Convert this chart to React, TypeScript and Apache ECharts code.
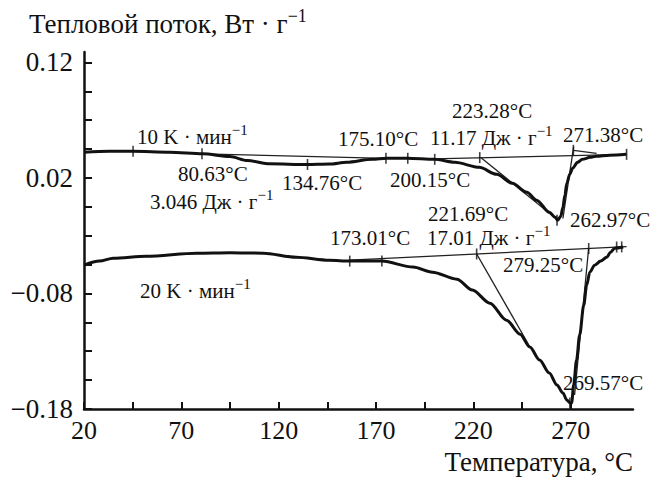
import React, { useEffect, useRef } from "react";
import * as echarts from "echarts";

// Axis ticks and labels
const xTickValues = [20, 45, 70, 95, 120, 145, 170, 195, 220, 245, 270];
const xLabelValues = [20, 70, 120, 170, 220, 270];
const yTickValues = [-0.18, -0.155, -0.13, -0.105, -0.08, -0.055, -0.03, -0.005, 0.02, 0.045, 0.07, 0.095, 0.12];
const yLabelValues = [-0.18, -0.08, 0.02, 0.12];

// 10 K/min curve
const upperTemp = [20, 33, 45, 64, 81, 95, 104, 115.5, 134.5, 146, 155, 168, 175.5, 186, 200, 210.5, 223, 232, 240, 247.5, 252.5, 259, 262, 263.3, 264.9, 266, 267, 268, 269.5, 271, 273.5, 276, 280, 283, 290, 298.5];
const upperFlow = [0.0422, 0.043, 0.043, 0.0422, 0.0409, 0.0385, 0.035, 0.0322, 0.0316, 0.032, 0.0335, 0.0361, 0.037, 0.037, 0.0361, 0.0335, 0.0292, 0.0231, 0.0154, 0.0076, 0.0007, -0.0097, -0.014, -0.0166, -0.0131, -0.0053, 0.005, 0.0154, 0.0232, 0.0284, 0.0335, 0.0361, 0.0378, 0.0387, 0.0396, 0.0404];

// 20 K/min curve
const lowerTemp = [20, 28, 35, 52, 78, 95, 112, 129, 146, 156.5, 173, 189, 199, 211.5, 219.5, 228.5, 237, 244, 249, 254, 259, 263, 266, 268, 269.6, 270.5, 271.5, 273, 274.6, 276.7, 278.2, 279.8, 282.3, 285.4, 288.5, 290.5, 292.6, 297];
const lowerFlow = [-0.0555, -0.052, -0.0495, -0.0477, -0.0451, -0.0447, -0.0451, -0.0486, -0.0512, -0.052, -0.052, -0.0572, -0.0616, -0.0676, -0.0771, -0.0884, -0.1031, -0.1152, -0.1264, -0.1376, -0.1489, -0.1593, -0.1662, -0.1722, -0.1748, -0.1748, -0.1593, -0.1376, -0.116, -0.0901, -0.0728, -0.0616, -0.0555, -0.052, -0.0486, -0.0443, -0.0408, -0.0398];

// Baselines and tangent construction lines: [T1, v1, T2, v2]
const guideLines = [
  [80.6, 0.0409, 175.5, 0.037],
  [199, 0.0365, 298.7, 0.0404],
  [223.8, 0.0377, 262.3, -0.0149],
  [271.5, 0.0468, 266, -0.0151],
  [271.5, 0.0439, 283.3, 0.0413],
  [156.5, -0.0512, 298.7, -0.0395],
  [221.7, -0.0458, 249, -0.1261],
  [279.2, -0.0411, 272, -0.1679],
];

// Small tick marks on the curves
const markTemp = [45.2, 80.6, 134.8, 175.1, 186.3, 200.15, 223.28, 262.97, 271.38, 298.7, 156.5, 173.01, 221.69, 279.25, 293.6, 296.2, 269.57];
const markFlow = [0.043, 0.0409, 0.0316, 0.037, 0.037, 0.0361, 0.0376, -0.0166, 0.0439, 0.0404, -0.052, -0.052, -0.0458, -0.0411, -0.0398, -0.0397, -0.1748];

// Annotation texts
const annotations: [string, number, number][] = [
  ["10 K · мин{s|−1}", 137, 137],
  ["80.63°C", 178, 174],
  ["3.046 Дж · г{s|−1}", 150, 202],
  ["134.76°C", 282, 183],
  ["175.10°C", 338, 139],
  ["200.15°C", 390, 180],
  ["223.28°C", 452, 111],
  ["11.17 Дж · г{s|−1}", 430, 138],
  ["271.38°C", 563, 135],
  ["221.69°C", 428, 214],
  ["262.97°C", 570, 220],
  ["17.01 Дж · г{s|−1}", 427, 238],
  ["173.01°C", 330, 238],
  ["279.25°C", 503, 265],
  ["20 K · мин{s|−1}", 140, 291],
  ["269.57°C", 563, 383],
];

const FONT = "'Liberation Serif', 'Times New Roman', serif";

function fmtY(v: number) {
  const s = Math.abs(v).toFixed(2);
  return v < -1e-9 ? "−" + s : s;
}

export default function App() {
  const ref = useRef<HTMLDivElement>(null);
  useEffect(() => {
    if (!ref.current) return;
    const chart = echarts.init(ref.current, undefined, { renderer: "svg" });
    const supRich = {
      s: { fontSize: 15, fontFamily: FONT, fill: "#111", padding: [0, 0, 14, 0] },
    };
    const graphics: any[] = annotations.map(([t, x, y]) => ({
      type: "text",
      x,
      y,
      silent: true,
      style: {
        text: t,
        fontSize: 21,
        fontFamily: FONT,
        fill: "#111",
        textAlign: "left",
        textVerticalAlign: "middle",
        rich: supRich,
      },
    }));
    graphics.push({
      type: "text",
      x: 29,
      y: 24,
      style: {
        text: "Тепловой поток, Вт · г{s|−1}",
        fontSize: 27,
        fontFamily: FONT,
        fill: "#111",
        textAlign: "left",
        textVerticalAlign: "middle",
        rich: { s: { fontSize: 18, fontFamily: FONT, fill: "#111", padding: [0, 0, 16, 0] } },
      },
    });
    graphics.push({
      type: "text",
      x: 633,
      y: 462,
      style: {
        text: "Температура, °C",
        fontSize: 27,
        fontFamily: FONT,
        fill: "#111",
        textAlign: "right",
        textVerticalAlign: "middle",
      },
    });

    const series: any[] = [
      {
        type: "line",
        data: upperTemp.map((t, i) => [t, upperFlow[i]]),
        showSymbol: false,
        smooth: 0.3,
        smoothMonotone: "x",
        lineStyle: { color: "#111", width: 3 },
        z: 3,
      },
      {
        type: "line",
        data: lowerTemp.map((t, i) => [t, lowerFlow[i]]),
        showSymbol: false,
        smooth: 0.3,
        smoothMonotone: "x",
        lineStyle: { color: "#111", width: 3 },
        z: 3,
      },
      ...guideLines.map((g) => ({
        type: "line",
        data: [
          [g[0], g[1]],
          [g[2], g[3]],
        ],
        showSymbol: false,
        lineStyle: { color: "#222", width: 1.3 },
        z: 2,
      })),
      {
        type: "scatter",
        data: markTemp.map((t, i) => [t, markFlow[i]]),
        symbol: "rect",
        symbolSize: [1.6, 11],
        itemStyle: { color: "#111" },
        z: 4,
      },
    ];

    chart.setOption({
      animation: false,
      backgroundColor: "#fff",
      grid: { left: 84, right: 18, top: 52, bottom: 68, containLabel: false, outerBoundsMode: "none" },
      xAxis: {
        type: "value",
        min: 20,
        max: 302,
        splitLine: { show: false },
        axisLine: { onZero: false, lineStyle: { color: "#111", width: 2.5 } },
        axisTick: { inside: true, length: 7, customValues: xTickValues, lineStyle: { color: "#111", width: 2 } },
        axisLabel: {
          customValues: xLabelValues,
          margin: 8,
          fontSize: 26,
          fontFamily: FONT,
          color: "#111",
          formatter: (v: number) => String(v),
        },
      },
      yAxis: {
        type: "value",
        min: -0.18,
        max: 0.129,
        splitLine: { show: false },
        axisLine: { onZero: false, lineStyle: { color: "#111", width: 2.5 } },
        axisTick: { inside: true, length: 8, customValues: yTickValues, lineStyle: { color: "#111", width: 2 } },
        axisLabel: {
          customValues: yLabelValues,
          margin: 11,
          fontSize: 27,
          fontFamily: FONT,
          color: "#111",
          formatter: (v: number) => fmtY(v),
        },
      },
      series,
      graphic: graphics,
    });
    return () => chart.dispose();
  }, []);
  return (
    <div
      ref={ref}
      style={{ position: "fixed", left: 0, top: 0, width: 651, height: 477, background: "#fff" }}
    />
  );
}
